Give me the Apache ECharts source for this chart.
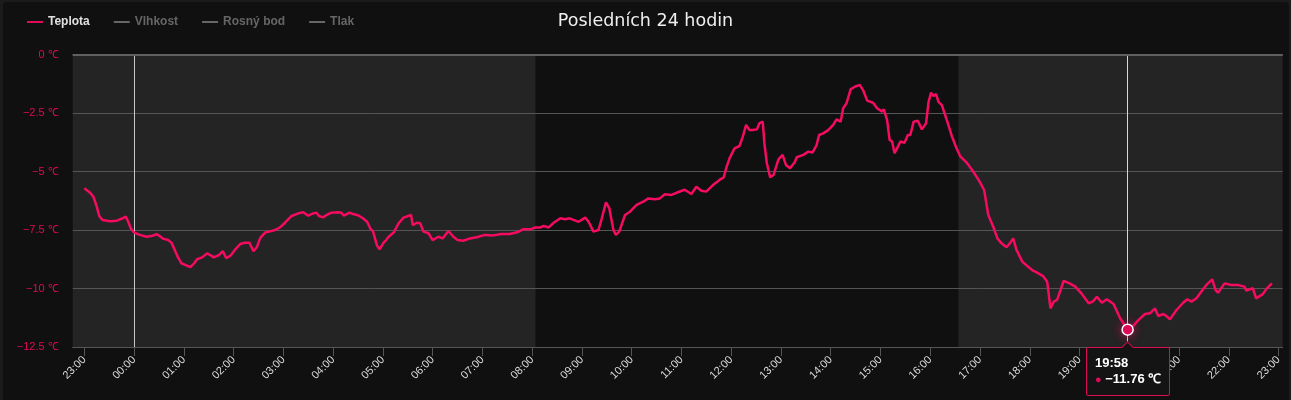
<!DOCTYPE html>
<html><head><meta charset="utf-8">
<script src="https://cdn.jsdelivr.net/npm/echarts@6/dist/echarts.min.js"></script>
<style>
html,body{margin:0;padding:0;background:#1b1b1b;width:1291px;height:400px;overflow:hidden;}
#panel{position:absolute;left:3px;top:2px;width:1286px;height:420px;background:#101010;border-radius:4px;}
#chart{position:absolute;left:0;top:0;width:1291px;height:400px;}
</style></head><body><div id="panel"></div><div id="chart"></div>
<script>
const times = ["23:00","23:07","23:11","23:15","23:18","23:22","23:31","23:39","23:45","23:50","23:53","23:56",
"00:00","00:07","00:15","00:21","00:27","00:31","00:35","00:41","00:45","00:49","00:53","00:57",
"01:03","01:08","01:13","01:16","01:22","01:28","01:32","01:36","01:42","01:47","01:51","01:56",
"02:02","02:08","02:14","02:19","02:24","02:28","02:32","02:38","02:44","02:50","02:56",
"03:02","03:10","03:18","03:24","03:30","03:36","03:40","03:43","03:48","03:52","03:58",
"04:06","04:10","04:13","04:20","04:24","04:30","04:36","04:41","04:45","04:48","04:53","04:56",
"05:01","05:04","05:07","05:13","05:19","05:25","05:34","05:36","05:41","05:45","05:49","05:55",
"06:00","06:07","06:12","06:19","06:25","06:30","06:37","06:45","06:53",
"07:03","07:13","07:23","07:33","07:42","07:49","07:58",
"08:04","08:10","08:14","08:20","08:26","08:34","08:40","08:45","08:50","08:56",
"09:04","09:08","09:14","09:20","09:24","09:29","09:33","09:38","09:41","09:45","09:52","09:58",
"10:06","10:14","10:20","10:28","10:34","10:40","10:48","10:54",
"11:04","11:12","11:18","11:24","11:30","11:38","11:46","11:51","11:54","11:58",
"12:04","12:10","12:14","12:18","12:22","12:26","12:31","12:34","12:38","12:40","12:43","12:47","12:51","12:57",
"13:02","13:06","13:11","13:17","13:19","13:27","13:33","13:38","13:43","13:46","13:51","13:57",
"14:03","14:07","14:12","14:15","14:19","14:24","14:29","14:35","14:39","14:44","14:51","14:56",
"15:02","15:04","15:08","15:11","15:14","15:17","15:20","15:24","15:29","15:33","15:36","15:40","15:45","15:50","15:55","15:58",
"16:01","16:04","16:07","16:10","16:14","16:20","16:26","16:31","16:36","16:44","16:52","16:59",
"17:05","17:10","17:16","17:21","17:26","17:32","17:36","17:40","17:44","17:51","17:57",
"18:04","18:09","18:16","18:21","18:25","18:29","18:33","18:41","18:48","18:55",
"19:03","19:11","19:16","19:21","19:27","19:33","19:41","19:49","19:58",
"20:04","20:11","20:19","20:25","20:31","20:35","20:41","20:45","20:49","20:57",
"21:05","21:10","21:15","21:21","21:29","21:34","21:40","21:44","21:47","21:55",
"22:03","22:11","22:19","22:21","22:29","22:33","22:41","22:46","22:52"];
const temps = [-5.72,-5.91,-6.08,-6.50,-6.90,-7.07,-7.13,-7.10,-7.02,-6.93,-7.15,-7.43,
-7.61,-7.71,-7.79,-7.76,-7.68,-7.76,-7.87,-7.93,-8.04,-8.35,-8.67,-8.92,
-9.01,-9.09,-8.90,-8.75,-8.67,-8.50,-8.57,-8.67,-8.58,-8.40,-8.70,-8.61,
-8.33,-8.10,-8.04,-8.04,-8.41,-8.24,-7.85,-7.61,-7.56,-7.50,-7.39,
-7.19,-6.90,-6.79,-6.74,-6.89,-6.79,-6.76,-6.90,-6.96,-6.86,-6.76,
-6.74,-6.76,-6.89,-6.76,-6.82,-6.87,-7.00,-7.15,-7.45,-7.55,-8.17,-8.33,
-8.04,-7.93,-7.79,-7.61,-7.21,-6.97,-6.86,-7.29,-7.19,-7.21,-7.57,-7.64,
-7.93,-7.79,-7.86,-7.54,-7.79,-7.93,-7.96,-7.86,-7.81,
-7.71,-7.73,-7.67,-7.67,-7.60,-7.47,-7.47,
-7.39,-7.39,-7.33,-7.39,-7.19,-7.00,-7.04,-7.00,-7.07,-7.15,
-6.97,-7.15,-7.57,-7.50,-7.00,-6.32,-6.57,-7.50,-7.71,-7.57,-6.86,-6.72,
-6.43,-6.29,-6.15,-6.19,-6.15,-5.97,-6.00,-5.91,
-5.78,-5.96,-5.65,-5.82,-5.86,-5.58,-5.36,-5.25,-4.86,-4.44,
-4.01,-3.91,-3.51,-3.01,-3.23,-3.23,-3.20,-2.94,-2.87,-3.79,-4.65,-5.25,-5.15,-4.48,
-4.29,-4.72,-4.86,-4.58,-4.39,-4.29,-4.15,-4.19,-3.87,-3.44,-3.37,-3.23,
-3.01,-2.77,-2.87,-2.30,-2.09,-1.49,-1.38,-1.30,-1.52,-1.97,-2.06,-2.30,
-2.44,-2.34,-2.80,-3.65,-3.72,-4.22,-4.01,-3.72,-3.77,-3.44,-3.44,-2.87,-2.83,-3.20,-2.94,-2.02,
-1.63,-1.77,-1.69,-2.02,-2.16,-2.80,-3.48,-3.94,-4.34,-4.62,-5.01,-5.40,
-5.79,-6.86,-7.36,-7.86,-8.07,-8.24,-8.07,-7.86,-8.35,-8.85,-9.04,
-9.24,-9.32,-9.47,-9.71,-10.85,-10.56,-10.49,-9.67,-9.78,-9.92,
-10.24,-10.63,-10.56,-10.35,-10.61,-10.46,-10.66,-11.27,-11.76,
-11.63,-11.35,-11.09,-11.06,-10.85,-11.18,-11.09,-11.18,-11.32,-10.92,
-10.61,-10.46,-10.56,-10.42,-10.03,-9.81,-9.61,-10.06,-10.18,-9.78,
-9.85,-9.85,-9.92,-10.09,-9.99,-10.42,-10.24,-9.99,-9.78];
const tickLabels = ["23:00","00:00","01:00","02:00","03:00","04:00","05:00","06:00","07:00","08:00","09:00","10:00","11:00",
"12:00","13:00","14:00","15:00","16:00","17:00","18:00","19:00","20:00","21:00","22:00","23:00"];
// shaded (light) bands; first start and last end are the axis limits
const shadeBands = ["22:46","08:04","16:34","23:05"];
const midnightLine = "00:00";
const tooltipTime = "19:58";
const seriesNames = ["Teplota","Vlhkost","Rosný bod","Tlak"];
const titleText = "Posledních 24 hodin";

const RED = '#df0a58';
const BASE = [2024,0,14];
function toMin(s){const p=s.split(':');return (+p[0])*60+(+p[1]);}
function seqTs(list){
  let day=0, prev=-1;
  return list.map(s=>{const m=toMin(s); if(prev>=0 && m<prev) day++; prev=m;
    return new Date(BASE[0],BASE[1],BASE[2]+day,Math.floor(m/60),m%60).getTime();});
}
function afterStart(s){
  const m=toMin(s), m0=toMin(times[0]);
  const day = m>=m0?0:1;
  return new Date(BASE[0],BASE[1],BASE[2]+day,Math.floor(m/60),m%60).getTime();
}
const pad=n=>(n<10?'0':'')+n;
const hhmm=v=>{const d=new Date(v);return pad(d.getHours())+':'+pad(d.getMinutes());};
const fmtNum=(v,dec)=>{const s=dec==null?String(Math.abs(v)):Math.abs(v).toFixed(dec);return (v<0?'\u2212':'')+s;};

const ts = seqTs(times);
const data = ts.map((t,i)=>[t,temps[i]]);
const tickTs = seqTs(tickLabels);
const bandTs = seqTs(shadeBands);
const axisMin = bandTs[0], axisMax = bandTs[3];

const chart = echarts.init(document.getElementById('chart'));
const FONT = 'Liberation Sans';
chart.setOption({
  animation:false,
  backgroundColor:'transparent',
  title:{text:titleText,left:'center',top:7,textStyle:{color:'#eeeeee',fontSize:17.5,fontWeight:'normal',fontFamily:'DejaVu Sans'}},
  legend:{data:seriesNames,left:22,top:11,icon:'rect',itemWidth:16,itemHeight:2,itemGap:24,
    selected:{'Vlhkost':false,'Rosný bod':false,'Tlak':false},
    inactiveColor:'#666',itemStyle:{borderWidth:0},
    textStyle:{color:'#e0e0e0',fontSize:12,fontWeight:'bold',fontFamily:FONT}},
  grid:{left:72.7,right:8.3,top:54.5,bottom:53},
  tooltip:{trigger:'axis',triggerOn:'none',alwaysShowContent:true,transitionDuration:0,
    backgroundColor:'#141414',borderColor:RED,borderWidth:1,padding:[7,8,8,8],
    textStyle:{color:'#fff',fontSize:13,fontFamily:FONT,fontWeight:'bold'},
    extraCssText:'box-shadow:none;border-radius:2px;overflow:visible;line-height:16px;',
    axisPointer:{type:'line',z:1.6,lineStyle:{color:'#d8d8d8',width:1,type:'solid'},label:{show:false}},
    position:(point,params,dom,rect,size)=>[point[0]-size.contentSize[0]/2,point[1]+17],
    formatter:ps=>{const p=ps[0];
      return '<div style="position:absolute;left:50%;top:-5px;width:9px;height:9px;margin-left:-5px;box-sizing:border-box;background:#141414;border-left:1px solid '+RED+';border-top:1px solid '+RED+';transform:rotate(45deg);"></div>'+
      '<div style="font-weight:bold;color:#fff">'+hhmm(p.value[0])+'</div>'+
      '<div style="font-weight:bold;color:#fff"><span style="color:'+RED+';font-size:11px">\u25CF</span> '+fmtNum(p.value[1],2)+' \u2103</div>';}
  },
  xAxis:{type:'value',min:axisMin,max:axisMax,z:1.5,
    axisLine:{show:true,onZero:false,lineStyle:{color:'#555',width:1}},
    axisTick:{show:true,length:9,lineStyle:{color:'#555'},customValues:tickTs},
    axisLabel:{customValues:tickTs,rotate:45,margin:11,color:'#dcdcdc',fontSize:11,fontFamily:FONT,formatter:v=>hhmm(v)},
    splitLine:{show:false}},
  yAxis:{type:'value',min:-12.5,max:0,interval:2.5,z:1.5,
    axisLine:{show:false},axisTick:{show:false},
    axisLabel:{color:RED,fontSize:11,fontFamily:FONT,margin:14,formatter:v=>fmtNum(v)+' \u2103'},
    splitLine:{lineStyle:{color:'#555555',width:1}}},
  series:[
    {name:seriesNames[0],type:'line',z:2,data:data,showSymbol:false,symbol:'circle',symbolSize:11,
     lineStyle:{color:RED,width:2.5},itemStyle:{color:RED,borderColor:'#fff',borderWidth:1.5},
     emphasis:{scale:1,lineStyle:{width:2.5},itemStyle:{color:RED,borderColor:'#fff',borderWidth:1.5,shadowBlur:10,shadowColor:'rgba(226,10,92,0.8)'}},
     markArea:{silent:true,z:0.5,itemStyle:{color:'#242424'},
       data:[[{xAxis:bandTs[0]},{xAxis:bandTs[1]}],[{xAxis:bandTs[2]},{xAxis:bandTs[3]}]]},
     markLine:{silent:true,z:1.7,symbol:'none',label:{show:false},animation:false,
       data:[{xAxis:afterStart(midnightLine),lineStyle:{color:'#c8c8c8',width:1,type:'solid'}},
             {yAxis:0,lineStyle:{color:'#606060',width:2,type:'solid'}}]}
    },
    {name:seriesNames[1],type:'line',data:[],itemStyle:{color:'#4a90d9'}},
    {name:seriesNames[2],type:'line',data:[],itemStyle:{color:'#50b050'}},
    {name:seriesNames[3],type:'line',data:[],itemStyle:{color:'#d9a040'}}
  ]
});
chart.dispatchAction({type:'showTip',seriesIndex:0,dataIndex:times.indexOf(tooltipTime)});
</script></body></html>
